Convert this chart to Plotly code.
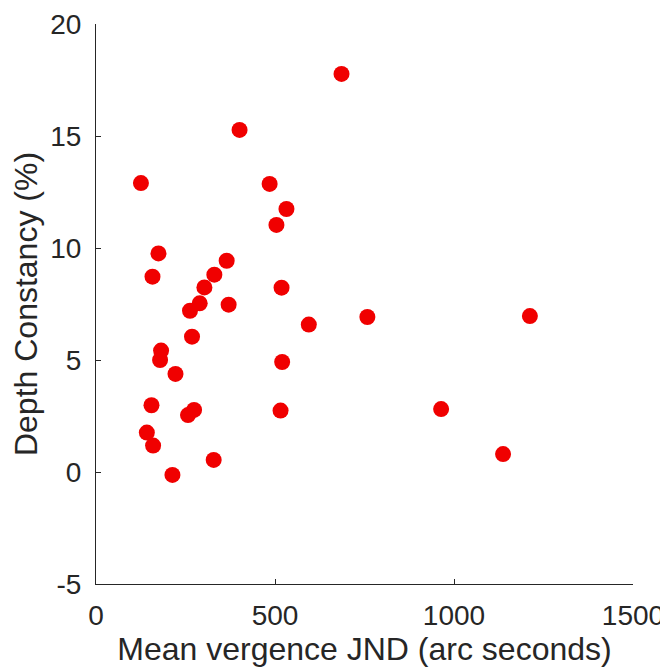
import plotly.graph_objects as go

jnd = [125.5, 685.8, 401, 485, 532, 504, 758, 1212, 964, 1137,
       174.5, 157.8, 365, 330.6, 302.8, 289.7, 262.6, 370.5, 518.3, 594.4,
       268.2, 181.8, 179, 520, 222, 155, 274, 257, 515.5, 142,
       159.5, 328.7, 213.5]
constancy = [12.90, 17.77, 15.27, 12.86, 11.74, 11.03, 6.92, 6.96, 2.81, 0.80,
             9.76, 8.72, 9.43, 8.81, 8.24, 7.53, 7.20, 7.47, 8.23, 6.58,
             6.04, 5.42, 5.00, 4.91, 4.38, 2.98, 2.77, 2.54, 2.74, 1.76,
             1.18, 0.54, -0.13]

x_ticks = [0, 500, 1000, 1500]
x_ticktext = ["0", "500", "1000", "1500"]
y_ticks = [-5, 0, 5, 10, 15, 20]
y_ticktext = ["-5", "0", "5", "10", "15", "20"]

fig = go.Figure(go.Scatter(
    x=jnd, y=constancy, mode="markers",
    marker=dict(color="#f00000", size=16, line=dict(width=0)),
    cliponaxis=False,
))

axis_common = dict(
    showgrid=False, zeroline=False, showline=True, linecolor="#262626", linewidth=1,
    ticks="inside", ticklen=5, tickcolor="#262626", tickwidth=1,
    tickfont=dict(size=28, color="#262626"), automargin=False,
)

fig.update_layout(
    width=660, height=659,
    margin=dict(l=87.5, r=35, t=16, b=83),
    plot_bgcolor="white", paper_bgcolor="white",
    font=dict(family="Liberation Sans, Arial, sans-serif", color="#262626"),
    showlegend=False,
    xaxis=dict(range=[0, 1500], tickvals=x_ticks, ticktext=x_ticktext,
               ticklabelstandoff=6,
               title=dict(text="Mean vergence JND (arc seconds)", font=dict(size=32), standoff=8),
               **axis_common),
    yaxis=dict(range=[-5, 20], tickvals=y_ticks, ticktext=y_ticktext,
               ticklabelstandoff=8,
               title=dict(text="Depth Constancy (%)", font=dict(size=32), standoff=10),
               **axis_common),
)

fig.write_html("out.html")
